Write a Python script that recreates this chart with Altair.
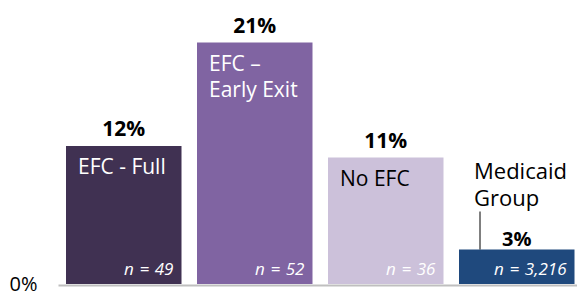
import altair as alt
import pandas as pd

categories = ["EFC - Full", "EFC – Early Exit", "No EFC", "Medicaid Group"]
values = [0.12, 0.21, 0.11, 0.03]
n_values = [49, 52, 36, 3216]
labels = ["EFC - Full", "EFC –\nEarly Exit", "No EFC", "Medicaid\nGroup"]
colors = ["#403152", "#8064a2", "#ccc1da", "#1f497d"]

df = pd.DataFrame({"cat": categories, "value": values, "n": n_values, "label": labels})

FONT = "Open Sans"

xscale = alt.Scale(domain=categories, paddingInner=15.5 / 131, paddingOuter=5.25 / 131, align=8 / 10.5)
yscale = alt.Scale(domain=[0, 0.24], nice=False)

x_enc = alt.X("cat:N", scale=xscale, sort=categories,
              axis=alt.Axis(title=None, labels=False, ticks=False, domain=True,
                            domainColor="#bfbfbf", domainWidth=2, offset=1))
y_enc = alt.Y("value:Q", scale=yscale,
              axis=alt.Axis(title=None, values=[0], format=".0%", domain=False, ticks=False,
                            grid=False, labelFont=FONT, labelFontSize=20, labelColor="#000000",
                            labelPadding=21))

base = alt.Chart(df)

bars = base.mark_bar().encode(
    x=x_enc,
    y=y_enc,
    color=alt.Color("cat:N", scale=alt.Scale(domain=categories, range=colors), legend=None),
)

val_main = base.transform_filter(alt.datum.cat != "Medicaid Group").mark_text(
    font=FONT, fontSize=21, fontWeight="bold", baseline="alphabetic", align="center", dy=-10, color="#000000"
).encode(
    x=alt.X("cat:N", scale=xscale, sort=categories),
    y=alt.Y("value:Q", scale=yscale),
    text=alt.Text("value:Q", format=".0%"),
)

val_med = base.transform_filter(alt.datum.cat == "Medicaid Group").mark_text(
    font=FONT, fontSize=20, fontWeight="bold", baseline="alphabetic", align="center", dy=-4, color="#000000"
).encode(
    x=alt.X("cat:N", scale=xscale, sort=categories),
    y=alt.Y("value:Q", scale=yscale),
    text=alt.Text("value:Q", format=".0%"),
)

cat_in = base.transform_filter(alt.datum.cat != "Medicaid Group").mark_text(
    font=FONT, fontSize=21, baseline="alphabetic", align="left", dx=12, dy=28,
    lineBreak="\n", lineHeight=26
).encode(
    x=alt.X("cat:N", scale=xscale, sort=categories, bandPosition=0),
    y=alt.Y("value:Q", scale=yscale),
    text="label:N",
    color=alt.condition(alt.datum.cat == "No EFC", alt.value("#000000"), alt.value("#ffffff")),
)

cat_med = base.transform_filter(alt.datum.cat == "Medicaid Group").mark_text(
    font=FONT, fontSize=22, baseline="alphabetic", align="left", dx=15, dy=-71,
    lineBreak="\n", lineHeight=27, color="#000000"
).encode(
    x=alt.X("cat:N", scale=xscale, sort=categories, bandPosition=0),
    y=alt.Y("value:Q", scale=yscale),
    text="label:N",
)

leader = base.transform_filter(alt.datum.cat == "Medicaid Group").mark_rule(
    color="#000000", strokeWidth=1, xOffset=21, y2Offset=-38
).encode(
    x=alt.X("cat:N", scale=xscale, sort=categories, bandPosition=0),
    y=alt.Y("value:Q", scale=yscale),
    y2=alt.Y2("value:Q"),
)

n_labels = base.transform_calculate(
    ntext="'n\u2004=\u2004' + format(datum.n, ',')"
).mark_text(
    font=FONT, fontSize=17, fontStyle="italic", baseline="alphabetic", align="right",
    dx=-8, dy=-9, color="#ffffff"
).encode(
    x=alt.X("cat:N", scale=xscale, sort=categories, bandPosition=1),
    y=alt.datum(0),
    text="ntext:N",
)

chart = alt.layer(bars, val_main, val_med, cat_in, cat_med, leader, n_labels).properties(
    width=519, height=276,
    background="white",
    autosize=alt.AutoSizeParams(type="none"),
    padding={"left": 50, "top": 0, "right": 0, "bottom": 8},
).configure_view(stroke=None)

chart.save("out.html", embed_options={"renderer": "svg", "actions": False})
